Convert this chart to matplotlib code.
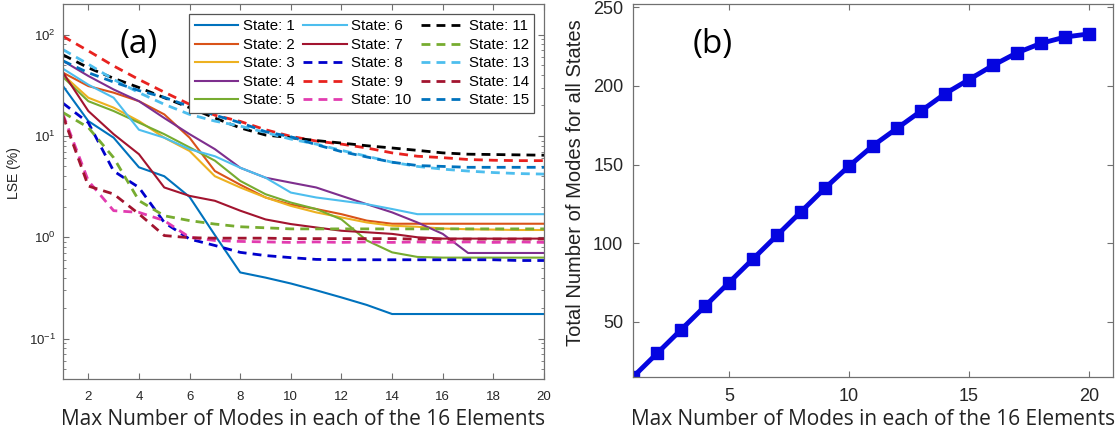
import numpy as np
import matplotlib
matplotlib.use("Agg")
import matplotlib.pyplot as plt

plt.rcParams['font.family'] = ['Liberation Sans', 'DejaVu Sans']
plt.rcParams['mathtext.default'] = 'regular'

modes = np.arange(1, 21)

# LSE (%) per state vs max number of modes per element
lse_1 = [31, 14, 9.6, 4.9, 4.0, 2.5, 1.05, 0.45, 0.40, 0.35, 0.30, 0.255, 0.215, 0.175, 0.175, 0.175, 0.175, 0.175, 0.175, 0.175]
lse_2 = [42, 31, 26.7, 22, 16.3, 9.6, 4.5, 3.3, 2.47, 2.1, 1.9, 1.69, 1.46, 1.36, 1.36, 1.36, 1.36, 1.36, 1.36, 1.36]
lse_3 = [40, 23.8, 19, 14, 9.6, 7.1, 4.0, 3.1, 2.47, 2.04, 1.76, 1.57, 1.4, 1.3, 1.27, 1.22, 1.2, 1.19, 1.18, 1.18]
lse_4 = [55, 39, 28.7, 22, 15, 10.4, 7.4, 4.85, 3.87, 3.46, 3.1, 2.56, 2.12, 1.76, 1.4, 1.08, 0.70, 0.70, 0.70, 0.70]
lse_5 = [38, 22, 17.6, 13.5, 10.4, 7.7, 5.7, 3.6, 2.66, 2.2, 1.9, 1.5, 0.93, 0.71, 0.64, 0.63, 0.63, 0.63, 0.63, 0.63]
lse_6 = [46, 32, 23.8, 11.5, 9.6, 7.4, 6.3, 4.85, 3.87, 2.76, 2.47, 2.29, 2.12, 1.9, 1.69, 1.69, 1.69, 1.69, 1.69, 1.69]
lse_7 = [42, 17.6, 10.4, 6.6, 3.1, 2.56, 2.29, 1.83, 1.5, 1.35, 1.25, 1.16, 1.12, 1.08, 1.0, 0.97, 0.97, 0.97, 0.97, 0.97]
lse_8 = [21, 13.5, 4.5, 3.1, 1.4, 0.96, 0.83, 0.71, 0.66, 0.63, 0.605, 0.6, 0.6, 0.6, 0.6, 0.6, 0.6, 0.6, 0.59, 0.59]
lse_9 = [96, 69, 49, 36, 27, 20.5, 16, 13.9, 11.5, 9.9, 8.9, 8.3, 7.6, 6.8, 6.3, 6.1, 5.85, 5.75, 5.7, 5.7]
lse_10 = [16.3, 3.6, 1.83, 1.76, 1.46, 1.0, 0.93, 0.91, 0.9, 0.89, 0.9, 0.89, 0.9, 0.89, 0.9, 0.89, 0.9, 0.89, 0.9, 0.89]
lse_11 = [63, 47, 37, 30, 23.8, 19, 15, 12, 10.2, 9.6, 9.0, 8.5, 8.0, 7.6, 7.2, 6.8, 6.6, 6.55, 6.5, 6.45]
lse_12 = [17, 12.1, 6.1, 2.3, 1.63, 1.46, 1.35, 1.27, 1.24, 1.21, 1.21, 1.21, 1.21, 1.21, 1.21, 1.21, 1.21, 1.21, 1.21, 1.21]
lse_13 = [71, 51, 36, 26.7, 20.5, 16.3, 14, 12.5, 10.8, 9.3, 8.3, 7.2, 6.3, 5.5, 5.0, 4.7, 4.5, 4.35, 4.25, 4.2]
lse_14 = [15.7, 3.2, 2.67, 1.7, 1.04, 0.99, 0.98, 0.98, 0.98, 0.97, 0.97, 0.97, 0.97, 0.97, 0.96, 0.96, 0.96, 0.96, 0.96, 0.96]
lse_15 = [55, 42, 34, 28, 24, 19.5, 16, 13.5, 11, 9.8, 8.2, 7.0, 6.2, 5.5, 5.1, 5.0, 4.9, 4.9, 4.9, 4.9]

# total number of modes summed over all states
total_modes = [15, 30, 45, 60, 75, 90, 105, 120, 135, 149, 162, 173, 184, 195, 204, 213, 221, 227, 231, 233]

series = [lse_1, lse_2, lse_3, lse_4, lse_5, lse_6, lse_7, lse_8,
          lse_9, lse_10, lse_11, lse_12, lse_13, lse_14, lse_15]
colors = ['#0072BD', '#D95319', '#EDB120', '#7E2F8E', '#77AC30', '#4DBEEE', '#A2142F',
          '#0000CC', '#E8221F', '#E23CB0', '#000000', '#77AC30', '#4DBEEE', '#A2142F', '#0072BD']

fig = plt.figure(figsize=(11.2, 4.37), dpi=100)
ax1 = fig.add_axes([63/1120, 1-379/437, 481/1120, 375/437])
ax2 = fig.add_axes([633/1120, 1-377/437, 480/1120, 373/437])

spine_c = '#707070'
label_font = ['Open Sans', 'DejaVu Sans']

for i, (y, c) in enumerate(zip(series, colors)):
    if i < 7:
        ax1.plot(modes, y, color=c, lw=1.5, label=f'State: {i+1}')
    else:
        ax1.plot(modes, y, color=c, lw=2.0, dashes=(3.2, 2.2), label=f'State: {i+1}')

ax1.set_yscale('log')
ax1.set_xlim(1, 20)
ax1.set_ylim(0.04, 200)
ax1.set_xticks(np.arange(2, 21, 2))
ax1.set_yticks([0.1, 1, 10, 100])
ax1.tick_params(which='both', direction='in', top=True, right=True, color=spine_c,
                labelsize=9.5, labelcolor='#262626')
ax1.tick_params(which='major', length=4)
ax1.tick_params(which='minor', length=2)
ax1.tick_params(axis='x', pad=9)
ax1.tick_params(axis='y', pad=5)
ax1.set_xlabel('Max Number of Modes in each of the 16 Elements', fontsize=15,
               family=label_font, color='#222222', labelpad=4)
ax1.set_ylabel('LSE (%)', fontsize=10, color='#222222')
ax1.yaxis.set_label_coords(-0.087, 0.55)
ax1.text(4.0, 80, '(a)', fontsize=24, family=label_font, ha='center', va='center')

leg = ax1.legend(ncol=3, loc='upper right', bbox_to_anchor=(0.979, 0.973), borderaxespad=0,
                 fontsize=10.8, handlelength=2.9, handletextpad=0.3, columnspacing=0.6,
                 labelspacing=0.3, borderpad=0.35, fancybox=False, framealpha=1)
leg.get_frame().set_edgecolor('#555555')
leg.get_frame().set_linewidth(0.9)

ax2.plot(modes, total_modes, color='#0505E0', lw=3.5, marker='s', ms=8,
         markerfacecolor='#0505E0', markeredgecolor='#0505E0')
ax2.set_xlim(1, 21)
ax2.set_ylim(15, 252)
ax2.set_xticks([5, 10, 15, 20])
ax2.set_yticks([50, 100, 150, 200, 250])
ax2.tick_params(direction='in', top=True, right=True, color=spine_c, length=4,
                labelsize=13, labelcolor='#262626')
ax2.tick_params(axis='x', pad=8)
ax2.tick_params(axis='y', pad=7)
ax2.set_xlabel('Max Number of Modes in each of the 16 Elements', fontsize=15,
               family=label_font, color='#222222', labelpad=3)
ax2.set_ylabel('Total Number of Modes for all States', fontsize=14.5, color='#222222')
ax2.yaxis.set_label_coords(-0.1, 0.52)
ax2.text(4.3, 226, '(b)', fontsize=24, family=label_font, ha='center', va='center')

for ax in (ax1, ax2):
    for s in ax.spines.values():
        s.set_color(spine_c)
        s.set_linewidth(0.9)

fig.savefig('out.png', dpi=100)
